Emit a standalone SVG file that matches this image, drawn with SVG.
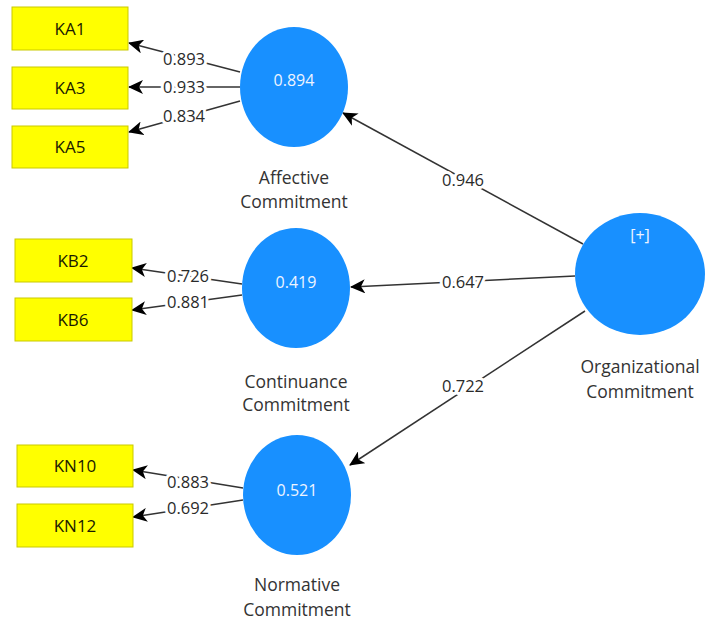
<svg xmlns="http://www.w3.org/2000/svg" width="711" height="623" viewBox="0 0 711 623">
<defs>
<marker id="arr" markerUnits="userSpaceOnUse" markerWidth="15" markerHeight="14" viewBox="0 0 15 14" refX="14" refY="7" orient="auto">
<path d="M0,0 L15,7 L0,14 L4,7 z" fill="#000"/>
</marker>
<style>
.box{fill:#ffff00;stroke:#c9c900;stroke-width:1}
.bt{font-family:"Open Sans","Liberation Sans",Arial,sans-serif;font-size:17px;fill:#1a1a00;text-anchor:middle}
.lv{fill:#1890ff}
.ct{font-family:"Open Sans","Liberation Sans",Arial,sans-serif;font-size:16px;fill:#eef4ff;text-anchor:middle}
.nm{font-family:"Open Sans","Liberation Sans",Arial,sans-serif;font-size:17.5px;fill:#333;text-anchor:middle}
.e{stroke:#333;stroke-width:1.5;fill:none;marker-end:url(#arr)}
.el{font-family:"Open Sans","Liberation Sans",Arial,sans-serif;font-size:16.5px;fill:#2a2a2a;text-anchor:middle;stroke:#fff;stroke-width:6;paint-order:stroke;stroke-linejoin:round}
</style>
</defs>
<rect width="711" height="623" fill="#fff"/>
<g id="connectors">
<line class="e" x1="240" y1="72" x2="129" y2="43"/>
<line class="e" x1="240" y1="87" x2="129" y2="87"/>
<line class="e" x1="240" y1="101" x2="129" y2="132"/>
<line class="e" x1="242" y1="284" x2="132" y2="268"/>
<line class="e" x1="242" y1="295" x2="132" y2="310"/>
<line class="e" x1="243" y1="488" x2="133" y2="470"/>
<line class="e" x1="243" y1="500" x2="133" y2="517"/>
<line class="e" x1="583" y1="244" x2="343" y2="113"/>
<line class="e" x1="575" y1="276" x2="351" y2="287"/>
<line class="e" x1="585" y1="311" x2="350" y2="465"/>
<text class="el" x="184" y="65">0.893</text>
<text class="el" x="184" y="93">0.933</text>
<text class="el" x="184" y="122">0.834</text>
<text class="el" x="188" y="282">0.726</text>
<text class="el" x="188" y="308">0.881</text>
<text class="el" x="188" y="488">0.883</text>
<text class="el" x="188" y="514">0.692</text>
<text class="el" x="463" y="186">0.946</text>
<text class="el" x="463" y="288">0.647</text>
<text class="el" x="463" y="392">0.722</text>
</g>
<g id="KA1"><rect class="box" x="12" y="7" width="116" height="43"/><text class="bt" x="70" y="35">KA1</text></g>
<g id="KA3"><rect class="box" x="12" y="67" width="116" height="42"/><text class="bt" x="70" y="94">KA3</text></g>
<g id="KA5"><rect class="box" x="12" y="126" width="116" height="42"/><text class="bt" x="70" y="153">KA5</text></g>
<g id="KB2"><rect class="box" x="15" y="239" width="117" height="43"/><text class="bt" x="73" y="267">KB2</text></g>
<g id="KB6"><rect class="box" x="15" y="298" width="117" height="43"/><text class="bt" x="73" y="326">KB6</text></g>
<g id="KN10"><rect class="box" x="17" y="445" width="116" height="42"/><text class="bt" x="75" y="472">KN10</text></g>
<g id="KN12"><rect class="box" x="17" y="504" width="116" height="43"/><text class="bt" x="75" y="532">KN12</text></g>
<g id="affective"><ellipse class="lv" cx="294" cy="87" rx="54" ry="60"/><text class="ct" x="294" y="86">0.894</text><text class="nm" x="294" y="184">Affective</text><text class="nm" x="294" y="208">Commitment</text></g>
<g id="continuance"><ellipse class="lv" cx="296" cy="288" rx="54" ry="60"/><text class="ct" x="296" y="288">0.419</text><text class="nm" x="296" y="388">Continuance</text><text class="nm" x="296" y="411">Commitment</text></g>
<g id="normative"><ellipse class="lv" cx="297" cy="495" rx="54" ry="60"/><text class="ct" x="297" y="496">0.521</text><text class="nm" x="297" y="591">Normative</text><text class="nm" x="297" y="616">Commitment</text></g>
<g id="organizational"><ellipse class="lv" cx="640" cy="274" rx="65" ry="61"/><text class="ct" x="640" y="241">[+]</text><text class="nm" x="640" y="373">Organizational</text><text class="nm" x="640" y="398">Commitment</text></g>
</svg>
